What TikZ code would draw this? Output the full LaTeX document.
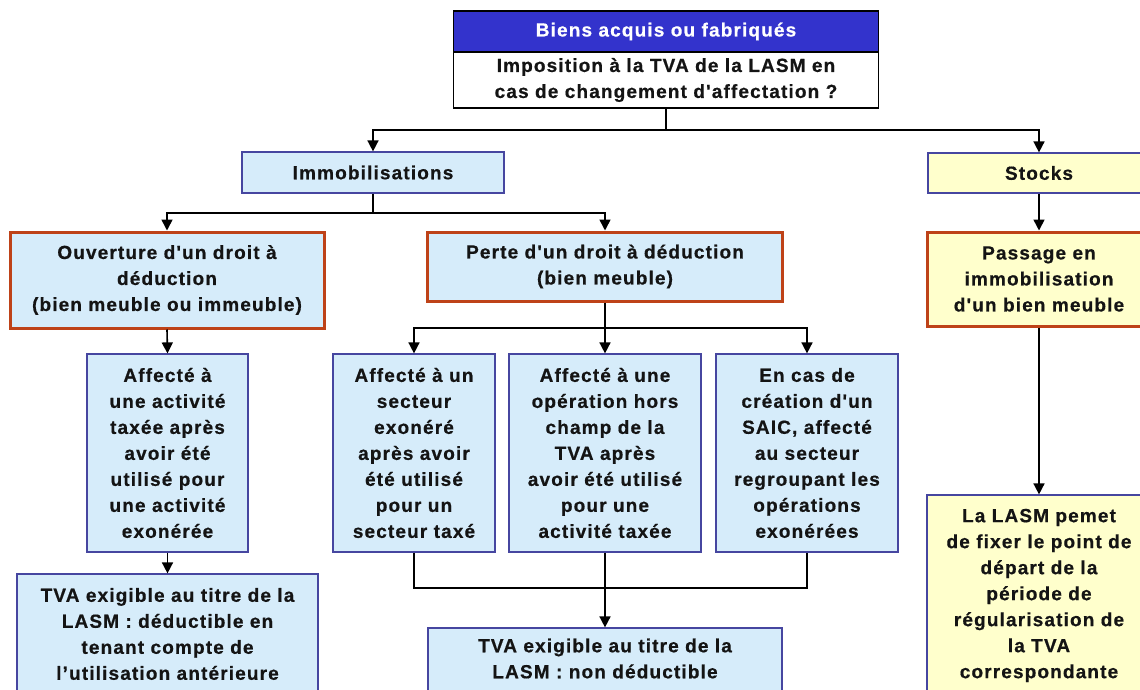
\documentclass[tikz,border=0pt]{standalone}
\usepackage{fontspec}
\setmainfont{Liberation Sans}[Ligatures=TeXOff, LetterSpace=6, BoldFeatures={FakeBold=0.6}]
\usetikzlibrary{arrows.meta}
\definecolor{hdrblue}{HTML}{3333CC}
\definecolor{lblue}{HTML}{D6ECFA}
\definecolor{lyellow}{HTML}{FFFFCC}
\definecolor{bblue}{HTML}{4646A0}
\definecolor{rbord}{HTML}{BE4218}
\definecolor{txtc}{HTML}{141414}
\begin{document}
\begin{tikzpicture}[x=1pt,y=-1pt,
  every node/.style={font=\bfseries\fontsize{19}{26}\selectfont, text=txtc, align=center, inner sep=0pt},
  hdr/.style={draw=black, line width=1.5pt, fill=hdrblue, text=white},
  wbox/.style={draw=black, line width=1.5pt, fill=white},
  bbox/.style={draw=bblue, line width=1.2pt, fill=lblue},
  ybox/.style={draw=bblue, line width=1.2pt, fill=lyellow},
  bboxr/.style={draw=rbord, line width=3pt, fill=lblue},
  yboxr/.style={draw=rbord, line width=3pt, fill=lyellow},
  plain/.style={inner sep=0pt},
  conn/.style={draw=black, line width=1.6pt},
  arr/.style={conn, -{Triangle[width=11pt,length=11pt]}}
]
\clip (0,0) rectangle (1140,690);
\fill[white] (0,0) rectangle (1140,690);

% top box
\node[hdr, minimum width=425, minimum height=41] (toph) at (666,31.5) {Biens acquis ou fabriqués};
\node[wbox, minimum width=425, minimum height=56] (topb) at (666,80) {Imposition à la TVA de la LASM en\\cas de changement d'affectation ?};

% level 2
\node[bbox, minimum width=262, minimum height=41] (immo) at (373,172.5) {Immobilisations};
\node[ybox, minimum width=222, minimum height=40] (stocks) at (1039,173) {Stocks};

% level 3
\node[bboxr, minimum width=314, minimum height=96] (ouv) at (167,280) {Ouverture d'un droit à\\déduction\\(bien meuble ou immeuble)};
\node[bboxr, minimum width=355, minimum height=69] (perte) at (605,266.5) {Perte d'un droit à déduction\\(bien meuble)};
\node[yboxr, minimum width=224, minimum height=94] (pass) at (1039,279) {Passage en\\immobilisation\\d'un bien meuble};

% level 4
\node[bbox, minimum width=161, minimum height=198] (a1) at (167.5,453) {Affecté à\\une activité\\taxée après\\avoir été\\utilisé pour\\une activité\\exonérée};
\node[bbox, minimum width=162, minimum height=198] (b1) at (414,453) {Affecté à un\\secteur\\exonéré\\après avoir\\été utilisé\\pour un\\secteur taxé};
\node[bbox, minimum width=192, minimum height=198] (b2) at (605,453) {Affecté à une\\opération hors\\champ de la\\TVA après\\avoir été utilisé\\pour une\\activité taxée};
\node[bbox, minimum width=182, minimum height=198] (b3) at (807,453) {En cas de\\création d'un\\SAIC, affecté\\au secteur\\regroupant les\\opérations\\exonérées};

% level 5
\node[bbox, minimum width=301, minimum height=120] (tva1) at (167.5,634) {TVA exigible au titre de la\\LASM : déductible en\\tenant compte de\\l’utilisation antérieure};
\node[bbox, minimum width=354, minimum height=80] (tva2) at (605,668) {};
\node[plain] (tva2t) at (605,658.5) {TVA exigible au titre de la\\LASM : non déductible};
\node[ybox, minimum width=224, minimum height=201] (lasm) at (1039,595.5) {La LASM pemet\\de fixer le point de\\départ de la\\période de\\régularisation de\\la TVA\\correspondante};

% connectors
\coordinate (j1) at (666,130);
\draw[conn] (topb.south) -- (j1);
\draw[arr] (j1) -| (immo.north);
\draw[arr] (j1) -| (stocks.north);
\coordinate (j2) at (373,213);
\draw[conn] (immo.south) -- (j2);
\draw[arr] (j2) -| (ouv.north);
\draw[arr] (j2) -| (perte.north);
\draw[arr] (stocks.south) -- (pass.north);
\coordinate (j3) at (605,328);
\draw[conn] (perte.south) -- (j3);
\draw[arr] (j3) -| (b1.north);
\draw[arr] (j3) -- (b2.north);
\draw[arr] (j3) -| (b3.north);
\draw[arr] (ouv.south) -- (a1.north);
\draw[arr] (a1.south) -- (tva1.north);
\draw[arr] (pass.south) -- (lasm.north);
\coordinate (j4) at (605,588);
\draw[conn] (b1.south) |- (j4) -| (b3.south);
\draw[arr] (b2.south) -- (tva2.north);
\end{tikzpicture}
\end{document}
